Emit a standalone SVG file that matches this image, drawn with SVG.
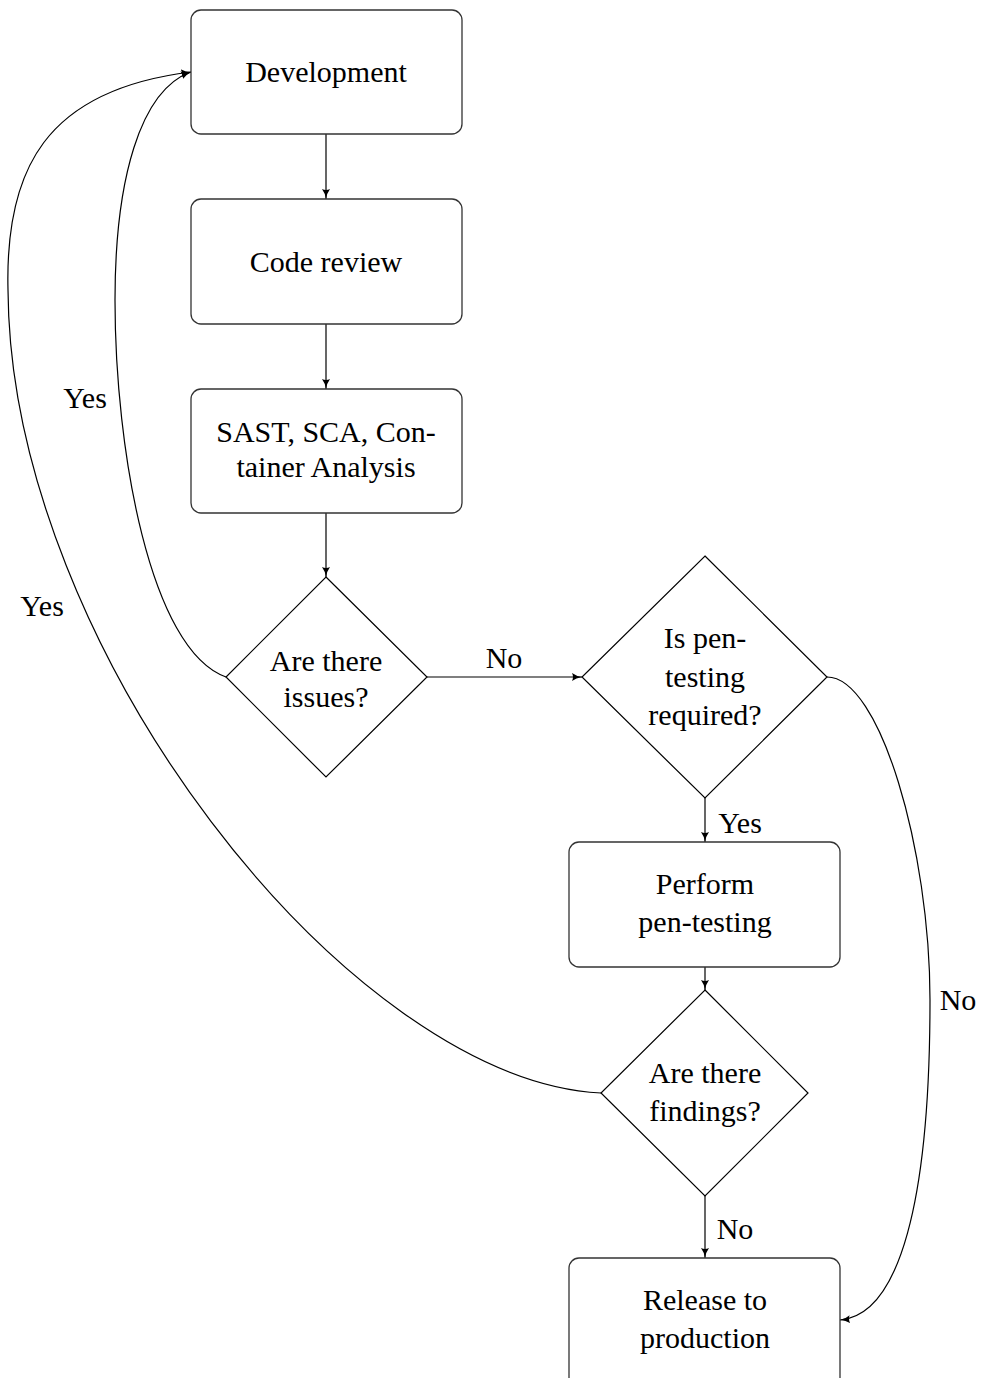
<svg xmlns="http://www.w3.org/2000/svg" width="987" height="1378" viewBox="0 0 987 1378">
<style>
.box{fill:#fff;stroke:#333;stroke-width:1.3}
.dia{fill:#fff;stroke:#000;stroke-width:1.2}
text{font-size:30px;fill:#000;text-anchor:middle}
.e{fill:none;stroke:#000;stroke-width:1.2;marker-end:url(#ah)}
</style>
<defs>
<marker id="ah" markerUnits="userSpaceOnUse" markerWidth="12" markerHeight="10" viewBox="0 0 12 10" refX="10" refY="5" orient="auto">
<path d="M0,1 Q4,4 10,5 Q4,6 0,9 Q2,5 0,1 z" fill="#000"/>
</marker>
</defs>
<rect width="987" height="1378" fill="#fff"/>
<g font-family="Liberation Serif, DejaVu Serif, serif">
<g id="connectors">
<path class="e" d="M326,134 L326,199"/>
<path class="e" d="M326,324 L326,389"/>
<path class="e" d="M326,513 L326,577"/>
<path class="e" d="M427,677 L582,677"/>
<path class="e" d="M705,798 L705,842"/>
<path class="e" d="M705,967 L705,990"/>
<path class="e" d="M705,1196 L705,1258"/>
<path class="e" d="M226,677 C150,650 115,450 115,300 C115,180 140,90 191,72"/>
<path class="e" d="M601,1093 C350,1080 10,650 8,290 C5,170 45,90 191,72"/>
<path class="e" d="M827,677 C880,677 930,850 930,1000 C930,1200 900,1315 840,1320"/>
<text x="504" y="668">No</text>
<text x="740" y="833">Yes</text>
<text x="735" y="1239">No</text>
<text x="958" y="1010">No</text>
<text x="85" y="408">Yes</text>
<text x="42" y="616">Yes</text>
</g>
<g id="development">
<rect class="box" x="191" y="10" width="271" height="124" rx="10"/>
<text x="326" y="82">Development</text>
</g>
<g id="code-review">
<rect class="box" x="191" y="199" width="271" height="125" rx="10"/>
<text x="326" y="272">Code review</text>
</g>
<g id="sast">
<rect class="box" x="191" y="389" width="271" height="124" rx="10"/>
<text x="326" y="442">SAST, SCA, Con-</text>
<text x="326" y="477">tainer Analysis</text>
</g>
<g id="issues">
<polygon class="dia" points="326,577 427,677 326,777 226,677"/>
<text x="326" y="671">Are there</text>
<text x="326" y="707">issues?</text>
</g>
<g id="pentest-required">
<polygon class="dia" points="705,556 827,677 705,798 582,677"/>
<text x="705" y="648">Is pen-</text>
<text x="705" y="687">testing</text>
<text x="705" y="725">required?</text>
</g>
<g id="perform">
<rect class="box" x="569" y="842" width="271" height="125" rx="10"/>
<text x="705" y="894">Perform</text>
<text x="705" y="932">pen-testing</text>
</g>
<g id="findings">
<polygon class="dia" points="705,990 808,1093 705,1196 601,1093"/>
<text x="705" y="1083">Are there</text>
<text x="705" y="1121">findings?</text>
</g>
<g id="release">
<rect class="box" x="569" y="1258" width="271" height="132" rx="10"/>
<text x="705" y="1310">Release to</text>
<text x="705" y="1348">production</text>
</g>
</g>
</svg>
